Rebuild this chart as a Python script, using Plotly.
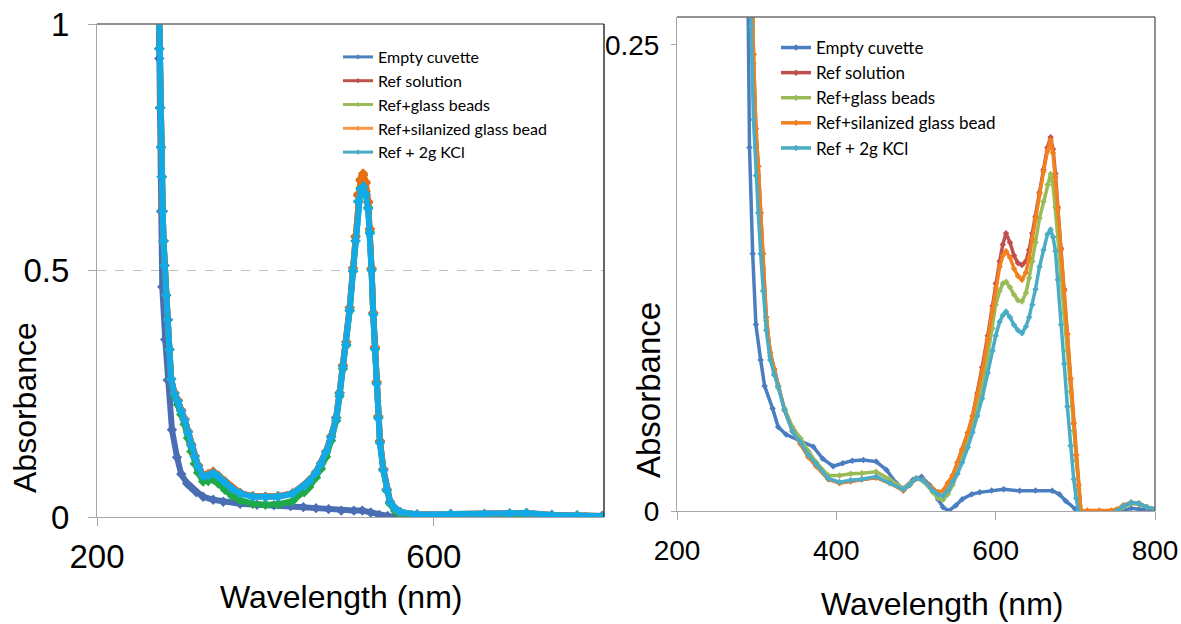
import plotly.graph_objects as go

# ---------------- data: left panel ----------------
wl_left = [272, 274, 275, 276, 277, 278, 279, 280,
           282, 284, 286, 288, 292, 296, 300, 304,
           308, 312, 316, 320, 326, 332, 338, 344,
           352, 360, 370, 385, 400, 415, 432, 446,
           452, 460, 466, 472, 478, 484, 488, 492,
           496, 500, 504, 507, 510, 513, 516, 519,
           522, 524, 526, 528, 530, 532, 534, 536,
           540, 544, 548, 554, 560, 580, 620, 660,
           690, 710, 740, 770, 800]

left_kcl = [1.20, 0.95, 0.83, 0.75, 0.69, 0.62, 0.56, 0.51,
            0.45, 0.40, 0.34, 0.28, 0.250, 0.235, 0.215, 0.197,
            0.172, 0.145, 0.122, 0.103, 0.083, 0.084, 0.089, 0.082,
            0.070, 0.058, 0.048, 0.041, 0.040, 0.041, 0.047, 0.063,
            0.073, 0.090, 0.108, 0.132, 0.162, 0.200, 0.250, 0.305,
            0.350, 0.420, 0.500, 0.560, 0.640, 0.665, 0.670, 0.655,
            0.625, 0.575, 0.500, 0.410, 0.340, 0.270, 0.200, 0.150,
            0.095, 0.055, 0.030, 0.017, 0.010, 0.005, 0.006, 0.006,
            0.007, 0.008, 0.004, 0.003, 0.002]

left_silanized = [1.20, 0.95, 0.83, 0.75, 0.69, 0.62, 0.56, 0.51,
                  0.45, 0.40, 0.34, 0.28, 0.252, 0.237, 0.217, 0.199,
                  0.174, 0.147, 0.124, 0.105, 0.085, 0.087, 0.092, 0.084,
                  0.072, 0.060, 0.049, 0.042, 0.041, 0.042, 0.048, 0.064,
                  0.074, 0.091, 0.109, 0.133, 0.164, 0.202, 0.252, 0.308,
                  0.355, 0.425, 0.505, 0.570, 0.655, 0.685, 0.697, 0.680,
                  0.640, 0.585, 0.505, 0.415, 0.345, 0.275, 0.205, 0.155,
                  0.098, 0.057, 0.031, 0.017, 0.010, 0.005, 0.006, 0.006,
                  0.007, 0.008, 0.004, 0.003, 0.002]

left_ref = [1.20, 0.95, 0.83, 0.75, 0.69, 0.62, 0.56, 0.51,
            0.45, 0.40, 0.34, 0.28, 0.252, 0.237, 0.217, 0.199,
            0.174, 0.147, 0.124, 0.105, 0.085, 0.087, 0.092, 0.084,
            0.072, 0.060, 0.049, 0.042, 0.041, 0.042, 0.048, 0.064,
            0.074, 0.091, 0.109, 0.133, 0.164, 0.202, 0.252, 0.308,
            0.355, 0.425, 0.505, 0.568, 0.652, 0.682, 0.693, 0.677,
            0.638, 0.583, 0.504, 0.414, 0.344, 0.274, 0.204, 0.154,
            0.097, 0.056, 0.031, 0.017, 0.010, 0.005, 0.006, 0.006,
            0.007, 0.008, 0.004, 0.003, 0.002]

left_glass = [1.20, 0.95, 0.83, 0.75, 0.69, 0.62, 0.56, 0.51,
              0.45, 0.40, 0.34, 0.28, 0.245, 0.228, 0.208, 0.188,
              0.160, 0.133, 0.108, 0.090, 0.072, 0.073, 0.076, 0.068,
              0.055, 0.043, 0.034, 0.027, 0.025, 0.026, 0.032, 0.050,
              0.061, 0.080, 0.098, 0.122, 0.155, 0.195, 0.245, 0.300,
              0.348, 0.418, 0.498, 0.560, 0.640, 0.668, 0.675, 0.660,
              0.628, 0.578, 0.502, 0.412, 0.342, 0.272, 0.202, 0.152,
              0.095, 0.053, 0.027, 0.012, 0.004, 0.001, 0.001, 0.002,
              0.003, 0.003, 0.002, 0.002, 0.001]

wl_left_empty = [272, 274, 276, 277.5, 281, 284, 289, 295, 300, 307,
                 312, 318, 326, 338, 350, 370, 390, 410, 430, 445,
                 460, 475, 490, 505, 515, 525, 535, 545, 555, 580,
                 620, 660, 700, 740, 780, 800]
left_empty = [1.20, 0.93, 0.62, 0.467, 0.36, 0.278, 0.177, 0.121, 0.087, 0.068,
              0.060, 0.050, 0.041, 0.035, 0.031, 0.027, 0.025, 0.024, 0.022, 0.020,
              0.018, 0.016, 0.013, 0.013, 0.013, 0.009, 0.004, 0.002, 0.0, 0.0,
              0.0, 0.0, 0.0, 0.0, 0.0, 0.0]

# ---------------- data: right panel ----------------
wl_right = [290, 293, 296, 299, 302,
            305, 308, 312, 317, 322,
            327, 335, 345, 355, 365,
            375, 390, 404, 418, 432,
            450, 467, 484, 492, 500,
            509, 521, 528, 534, 540,
            546, 552, 558, 565, 571,
            577, 583, 590, 596, 600,
            605, 609, 613, 618, 623,
            628, 633, 638, 642, 646,
            650, 655, 660, 665, 669,
            672, 675, 678, 682, 686,
            690, 694, 698, 701, 704,
            707, 715, 730, 745, 752,
            760, 770, 780, 790, 800]

right_silanized = [0.45, 0.32, 0.245, 0.205, 0.185,
                   0.160, 0.138, 0.104, 0.085, 0.076,
                   0.067, 0.054, 0.043, 0.036, 0.029,
                   0.024, 0.017, 0.015, 0.016, 0.017,
                   0.018, 0.015, 0.011, 0.014, 0.0175,
                   0.0166, 0.012, 0.010, 0.0108, 0.015,
                   0.019, 0.026, 0.033, 0.042, 0.051,
                   0.062, 0.075, 0.092, 0.108, 0.1196,
                   0.131, 0.137, 0.1394, 0.136, 0.130,
                   0.126, 0.124, 0.128, 0.1358, 0.146,
                   0.157, 0.170, 0.182, 0.193, 0.199,
                   0.192, 0.179, 0.162, 0.140, 0.118,
                   0.095, 0.071, 0.047, 0.030, 0.014,
                   0.0, 0.0003, 0.0003, 0.0003, 0.001,
                   0.003, 0.0045, 0.004, 0.002, 0.001]

right_ref = [0.45, 0.32, 0.245, 0.205, 0.185,
             0.160, 0.138, 0.104, 0.085, 0.076,
             0.067, 0.054, 0.043, 0.036, 0.029,
             0.024, 0.017, 0.015, 0.016, 0.017,
             0.018, 0.015, 0.011, 0.014, 0.0175,
             0.0166, 0.012, 0.010, 0.0108, 0.015,
             0.019, 0.026, 0.033, 0.042, 0.051,
             0.063, 0.077, 0.094, 0.110, 0.122,
             0.134, 0.143, 0.149, 0.144, 0.137,
             0.133, 0.132, 0.134, 0.140, 0.149,
             0.158, 0.171, 0.183, 0.195, 0.2005,
             0.194, 0.181, 0.163, 0.141, 0.119,
             0.095, 0.071, 0.047, 0.030, 0.014,
             0.0, -0.002, -0.002, -0.002, 0.0,
             0.003, 0.0045, 0.004, 0.002, 0.001]

right_glass = [0.45, 0.31, 0.24, 0.202, 0.18,
               0.152, 0.13, 0.102, 0.083, 0.074,
               0.066, 0.055, 0.045, 0.039, 0.032,
               0.026, 0.019, 0.019, 0.020, 0.0202,
               0.021, 0.017, 0.012, 0.0145, 0.0175,
               0.016, 0.010, 0.0068, 0.006, 0.009,
               0.014, 0.020, 0.028, 0.037, 0.046,
               0.056, 0.067, 0.083, 0.098, 0.1106,
               0.118, 0.122, 0.123, 0.120, 0.116,
               0.113, 0.1124, 0.117, 0.125, 0.134,
               0.144, 0.157, 0.166, 0.175, 0.1808,
               0.175, 0.163, 0.147, 0.126, 0.106,
               0.086, 0.064, 0.043, 0.027, 0.012,
               0.0, -0.002, -0.002, -0.002, 0.0,
               0.002, 0.004, 0.0035, 0.002, 0.001]

right_kcl = [0.45, 0.26, 0.21, 0.18, 0.16,
             0.138, 0.118, 0.097, 0.081, 0.073,
             0.0667, 0.054, 0.0425, 0.037, 0.030,
             0.025, 0.0175, 0.0155, 0.0165, 0.017,
             0.0185, 0.015, 0.0115, 0.014, 0.0175,
             0.0165, 0.011, 0.0088, 0.0081, 0.011,
             0.0155, 0.020, 0.026, 0.034, 0.0423,
             0.051, 0.0603, 0.074, 0.086, 0.094,
             0.1015, 0.105, 0.107, 0.104, 0.0998,
             0.097, 0.0953, 0.099, 0.104, 0.1106,
             0.119, 0.131, 0.140, 0.1484, 0.151,
             0.147, 0.1394, 0.124, 0.100, 0.079,
             0.056, 0.035, 0.017, 0.007, 0.0,
             -0.002, -0.003, -0.003, -0.003, 0.0,
             0.0025, 0.0045, 0.004, 0.002, 0.001]

wl_right_empty = [284, 288, 291, 295, 299, 305, 310, 320, 327, 337,
                  354, 371, 383, 396, 408, 420, 434, 450, 463, 475,
                  484, 496, 507, 517, 528, 534, 541, 550, 558, 570,
                  580, 595, 610, 630, 650, 671, 680, 688, 700, 707,
                  720, 740, 760, 770, 780, 790, 800]
right_empty = [0.50, 0.30, 0.195, 0.138, 0.10, 0.081, 0.067, 0.055, 0.045, 0.041,
               0.038, 0.0345, 0.028, 0.024, 0.0256, 0.027, 0.0274, 0.0265, 0.022, 0.015,
               0.012, 0.0166, 0.0184, 0.014, 0.006, 0.002, 0.0, 0.003, 0.0063, 0.009,
               0.010, 0.011, 0.0117, 0.0108, 0.011, 0.0108, 0.009, 0.0054, 0.001, 0.0,
               -0.002, -0.002, 0.0, 0.0015, 0.001, 0.001, 0.0005]

series_names = ["Empty cuvette", "Ref solution", "Ref+glass beads",
                "Ref+silanized glass bead", "Ref + 2g KCl"]
legend_colors = ["#4F81BD", "#C0504D", "#9BBB59", "#F79646", "#4BACC6"]
left_line_colors = ["#4A6DB3", "#C0504D", "#1FAA4A", "#E8700E", "#12AAE6"]
right_line_colors = ["#4A7EC0", "#C0504D", "#9BBB59", "#F2801E", "#4BACC6"]

left_x = [wl_left_empty, wl_left, wl_left, wl_left, wl_left]
left_y = [left_empty, left_ref, left_glass, left_silanized, left_kcl]
right_x = [wl_right_empty, wl_right, wl_right, wl_right, wl_right]
right_y = [right_empty, right_ref, right_glass, right_silanized, right_kcl]

fig = go.Figure()

# left panel curves
for i in range(5):
    fig.add_trace(go.Scatter(
        x=left_x[i], y=left_y[i], mode="lines+markers", name=series_names[i],
        line=dict(color=left_line_colors[i], width=6),
        marker=dict(symbol="diamond", size=8, color=left_line_colors[i]),
        xaxis="x", yaxis="y", showlegend=False, cliponaxis=True))
# left legend entries
for i in range(5):
    fig.add_trace(go.Scatter(
        x=[None], y=[None], mode="lines+markers", name=series_names[i],
        line=dict(color=legend_colors[i], width=3),
        marker=dict(symbol="diamond", size=4, color=legend_colors[i]),
        xaxis="x", yaxis="y", legend="legend"))
# right panel curves
for i in range(5):
    fig.add_trace(go.Scatter(
        x=right_x[i], y=right_y[i], mode="lines+markers", name=series_names[i],
        line=dict(color=right_line_colors[i], width=3.5),
        marker=dict(symbol="diamond", size=5, color=right_line_colors[i]),
        xaxis="x2", yaxis="y2", legend="legend2"))

tick_font_l = dict(family="Liberation Sans, Arial", size=33, color="black")
tick_font_r = dict(family="Liberation Sans, Arial", size=28, color="black")
axis_gray = "#A6A6A6"

W, H = 1181, 624
fig.update_layout(
    width=W, height=H, autosize=False,
    margin=dict(l=0, r=0, t=0, b=0, autoexpand=False),
    paper_bgcolor="white", plot_bgcolor="white",
    showlegend=True,
    xaxis=dict(domain=[97 / W, 604 / W], range=[200, 802], anchor="y",
               automargin=False,
               tickvals=[200, 600], ticks="outside", ticklen=8, tickcolor=axis_gray,
               showline=True, linecolor=axis_gray, linewidth=1,
               showgrid=False, zeroline=False, tickfont=tick_font_l,
               ticklabelstandoff=2),
    yaxis=dict(domain=[1 - 517 / H, 1 - 24 / H], range=[0, 1], anchor="x",
               automargin=False,
               tickvals=[0, 0.5, 1], ticktext=["0", "0.5", "1"],
               ticks="outside", ticklen=8, tickcolor=axis_gray,
               showline=True, linecolor=axis_gray, linewidth=1,
               showgrid=True, gridcolor="#BFBFBF", griddash="dash", gridwidth=1,
               zeroline=False, tickfont=tick_font_l, ticklabelstandoff=12),
    xaxis2=dict(domain=[677 / W, 1155 / W], range=[200, 800], anchor="y2",
                automargin=False,
                tickvals=[200, 400, 600, 800], ticks="outside", ticklen=8,
                tickcolor=axis_gray, showline=True, linecolor=axis_gray, linewidth=1,
                showgrid=False, zeroline=False, tickfont=tick_font_r,
                ticklabelstandoff=6),
    yaxis2=dict(domain=[1 - 511 / H, 1 - 17 / H], range=[0, 0.265], anchor="x2",
                automargin=False,
                tickvals=[0, 0.25], ticktext=["0", "0.25"],
                ticks="outside", ticklen=5, tickcolor=axis_gray,
                showline=True, linecolor=axis_gray, linewidth=1,
                showgrid=False, zeroline=False, tickfont=tick_font_r,
                ticklabelstandoff=6),
    legend=dict(x=338 / W, y=1 - 40 / H, xanchor="left", yanchor="top",
                font=dict(family="Lato", size=16, color="black"),
                bgcolor="rgba(0,0,0,0)", tracegroupgap=0, itemwidth=30),
    legend2=dict(x=776 / W, y=1 - 30 / H, xanchor="left", yanchor="top",
                 font=dict(family="Lato", size=17, color="black"),
                 bgcolor="rgba(0,0,0,0)", tracegroupgap=0, itemwidth=30),
    shapes=[
        dict(type="line", xref="x domain", yref="y domain", x0=0, x1=1, y0=1, y1=1,
             line=dict(color="#6E6E6E", width=1.5)),
        dict(type="line", xref="x domain", yref="y domain", x0=1, x1=1, y0=0, y1=1,
             line=dict(color="#333333", width=1.5)),
        dict(type="line", xref="x2 domain", yref="y2 domain", x0=0, x1=1, y0=1, y1=1,
             line=dict(color="#6E6E6E", width=1.5)),
        dict(type="line", xref="x2 domain", yref="y2 domain", x0=1, x1=1, y0=0, y1=1,
             line=dict(color="#6E6E6E", width=1.5)),
    ],
    annotations=[
        dict(text="Absorbance", xref="paper", yref="paper", x=25 / W, y=1 - 408 / H,
             textangle=-90, showarrow=False, xanchor="center", yanchor="middle",
             font=dict(family="Liberation Sans, Arial", size=32, color="black")),
        dict(text="Absorbance", xref="paper", yref="paper", x=648 / W, y=1 - 390 / H,
             textangle=-90, showarrow=False, xanchor="center", yanchor="middle",
             font=dict(family="Liberation Sans, Arial", size=33, color="black")),
        dict(text="Wavelength (nm)", xref="paper", yref="paper", x=341 / W, y=1 - 597 / H,
             showarrow=False, xanchor="center", yanchor="middle",
             font=dict(family="Liberation Sans, Arial", size=32, color="black")),
        dict(text="Wavelength (nm)", xref="paper", yref="paper", x=942 / W, y=1 - 604 / H,
             showarrow=False, xanchor="center", yanchor="middle",
             font=dict(family="Liberation Sans, Arial", size=32, color="black")),
    ],
)

fig.write_html("out.html", config={"displayModeBar": False},
               post_script="document.body.style.margin='0px';document.body.style.overflow='hidden';")
